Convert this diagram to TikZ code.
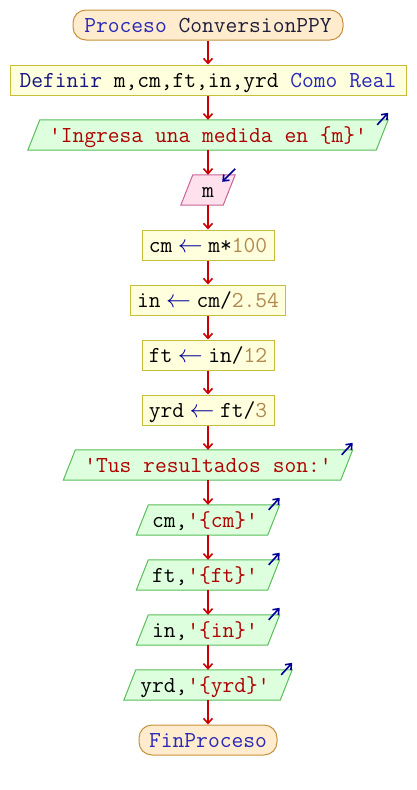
\documentclass[tikz,border=0pt]{standalone}
\usepackage{fontspec}
\usetikzlibrary{arrows.meta}
\definecolor{kw}{RGB}{40,40,185}
\definecolor{kwdark}{RGB}{20,20,130}
\definecolor{nm}{RGB}{30,30,60}
\definecolor{strc}{RGB}{175,0,0}
\definecolor{numc}{RGB}{176,136,80}
\definecolor{arrc}{RGB}{0,0,150}
\definecolor{termfill}{RGB}{255,235,205}
\definecolor{termdraw}{RGB}{200,145,60}
\definecolor{procfill}{RGB}{255,255,221}
\definecolor{procdraw}{RGB}{200,190,60}
\definecolor{outfill}{RGB}{221,255,221}
\definecolor{outdraw}{RGB}{90,190,90}
\definecolor{infill}{RGB}{255,225,238}
\definecolor{indraw}{RGB}{200,100,150}
\definecolor{flowc}{RGB}{204,0,0}
\newcommand{\lar}{\makebox[36pt]{\color{arrc}$\leftarrow$}}
\newcommand{\kwd}[1]{{\color{kw}#1}}
\newcommand{\strg}[1]{{\color{strc}#1}}
\newcommand{\num}[1]{{\color{numc}#1}}
\tikzset{
  base/.style={font=\ttfamily\fontsize{22.86}{24}\selectfont, inner sep=0pt, minimum height=30, text height=17, text depth=3},
  term/.style={base, draw=termdraw, fill=termfill, line width=1, rounded corners=13},
  proc/.style={base, draw=procdraw, fill=procfill, line width=1},
  pgram/.style={base},
  flow/.style={draw=flowc, line width=1.6, -{Straight Barb[length=5,width=9,line width=1.6]}},
  iomark/.style={draw=arrc, line width=1.6, -{Straight Barb[length=5,width=8,line width=1.6]}},
}
% parallelogram drawn behind the node text
\newcommand{\pgdraw}[3]{%
  \path[draw=#2, fill=#3, line width=1]
    ([xshift=6]#1.north west) -- ([xshift=6]#1.north east) --
    ([xshift=-6]#1.south east) -- ([xshift=-6]#1.south west) -- cycle;}
\begin{document}
\begin{tikzpicture}[x=1pt,y=-1pt]
\useasboundingbox[fill=white] (0,0) rectangle (416,790);
% geometry nodes (text placed later on top)
\node[pgram, minimum width=348] (n3) at (208,135) {};
\node[pgram, minimum width=42] (n4) at (208,190) {};
\node[pgram, minimum width=277] (n9) at (208,465) {};
\node[pgram, minimum width=131] (n10) at (208,520) {};
\node[pgram, minimum width=131] (n11) at (208,575) {};
\node[pgram, minimum width=131] (n12) at (208,630) {};
\node[pgram, minimum width=156] (n13) at (208,685) {};
\pgdraw{n3}{outdraw}{outfill}
\pgdraw{n4}{indraw}{infill}
\pgdraw{n9}{outdraw}{outfill}
\pgdraw{n10}{outdraw}{outfill}
\pgdraw{n11}{outdraw}{outfill}
\pgdraw{n12}{outdraw}{outfill}
\pgdraw{n13}{outdraw}{outfill}
\node[base] at (n3) {\strg{'Ingresa una medida en \{m\}'}};
\node[base] at (n4) {m};
\node[base] at (n9) {\strg{'Tus resultados son:'}};
\node[base] at ([xshift=-3]n10.center) {cm,\strg{'\{cm\}'}};
\node[base] at ([xshift=-3]n11.center) {ft,\strg{'\{ft\}'}};
\node[base] at ([xshift=-3]n12.center) {in,\strg{'\{in\}'}};
\node[base] at ([xshift=-3]n13.center) {yrd,\strg{'\{yrd\}'}};
% other nodes
\node[term, minimum width=270] (n1) at (208,25) {\kwd{Proceso} {\color{nm}ConversionPPY}};
\node[proc, minimum width=396] (n2) at (208,80) {{\color{kwdark}Definir} m,cm,ft,in,yrd \kwd{Como Real}};
\node[proc, minimum width=132] (n5) at (208,245) {cm\lar m*\num{100}};
\node[proc, minimum width=155] (n6) at (208,300) {in\lar cm/\num{2.54}};
\node[proc, minimum width=132] (n7) at (208,355) {ft\lar in/\num{12}};
\node[proc, minimum width=132] (n8) at (208,410) {yrd\lar ft/\num{3}};
\node[term, minimum width=138] (n14) at (208,740) {\kwd{FinProceso}};
% flow connectors
\foreach \a/\b in {n1/n2,n2/n3,n3/n4,n4/n5,n5/n6,n6/n7,n7/n8,n8/n9,n9/n10,n10/n11,n11/n12,n12/n13,n13/n14}
  \draw[flow] (\a.south) -- (\b.north);
% output / input marks
\foreach \n in {n3,n9,n10,n11,n12,n13}{
  \coordinate (\n-tr) at ([xshift=6]\n.north east);
  \draw[iomark] ([xshift=-11,yshift=-5]\n-tr) -- ([yshift=7]\n-tr);
}
\coordinate (n4-tr) at ([xshift=6]n4.north east);
\draw[iomark] ([yshift=6]n4-tr) -- ([xshift=-13,yshift=-7]n4-tr);
\end{tikzpicture}
\end{document}
